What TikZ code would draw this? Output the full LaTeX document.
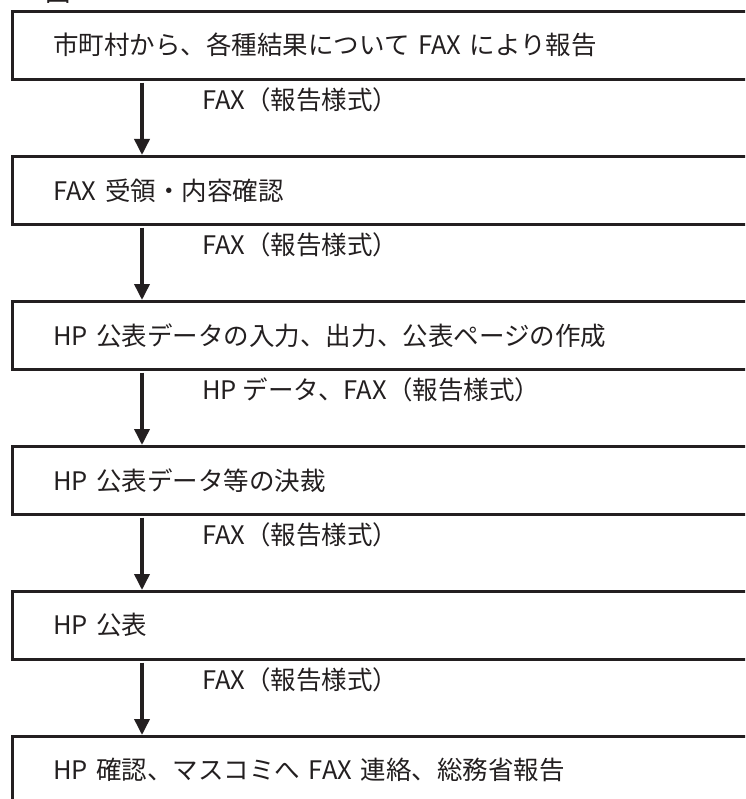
\documentclass[tikz,border=0pt]{standalone}
\usepackage{fontspec}
\setmainfont{Noto Sans CJK JP}
\usetikzlibrary{arrows.meta}
\definecolor{ink}{HTML}{231F20}
\tikzset{
  stepbox/.style={draw=ink, line width=2.6pt, anchor=north west,
    minimum height=68pt, text width=678pt, inner xsep=41pt, inner ysep=0pt,
    align=left, font=\fontsize{25.5}{30}\selectfont, text=ink},
  flowarrow/.style={draw=ink, line width=3.6pt,
    -{Triangle[length=16pt,width=15pt]}, shorten <=2pt},
  flowlabel/.style={anchor=west, inner sep=0pt, font=\fontsize{25.5}{30}\selectfont, text=ink}
}
\begin{document}
\begin{tikzpicture}[x=1pt,y=-1pt]
\useasboundingbox (0,0) rectangle (745,799);
\clip (0,0) rectangle (745,799);
\node[anchor=south west, inner sep=0pt, font=\fontsize{25.5}{30}\selectfont, text=ink] (fig) at (45,4) {図};
\node[stepbox] (b1) at (11,10) {市町村から、各種結果について FAX により報告};
\node[stepbox] (b2) at (11,155) {FAX 受領・内容確認};
\node[stepbox] (b3) at (11,300) {HP 公表データの入力、出力、公表ページの作成};
\node[stepbox] (b4) at (11,445) {HP 公表データ等の決裁};
\node[stepbox] (b5) at (11,590) {HP 公表};
\node[stepbox] (b6) at (11,735) {HP 確認、マスコミへ FAX 連絡、総務省報告};
\coordinate (ax) at (142,0);
\draw[flowarrow] (b1.south -| ax) -- (b2.north -| ax);
\draw[flowarrow] (b2.south -| ax) -- (b3.north -| ax);
\draw[flowarrow] (b3.south -| ax) -- (b4.north -| ax);
\draw[flowarrow] (b4.south -| ax) -- (b5.north -| ax);
\draw[flowarrow] (b5.south -| ax) -- (b6.north -| ax);
\node[flowlabel] (l1) at (202,100) {FAX（報告様式）};
\node[flowlabel] (l2) at (202,245) {FAX（報告様式）};
\node[flowlabel] (l3) at (202,390) {HP データ、FAX（報告様式）};
\node[flowlabel] (l4) at (202,535) {FAX（報告様式）};
\node[flowlabel] (l5) at (202,680) {FAX（報告様式）};
\end{tikzpicture}
\end{document}
